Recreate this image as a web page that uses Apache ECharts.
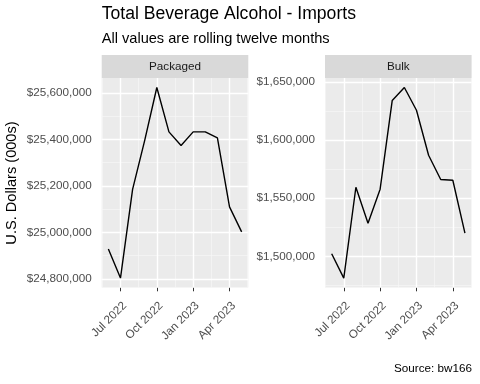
<!DOCTYPE html>
<html><head><meta charset="utf-8">
<script src="https://cdn.jsdelivr.net/npm/echarts@6/dist/echarts.min.js"></script>
<style>html,body{margin:0;padding:0;background:#fff}#c{width:480px;height:384px}</style>
</head><body><div id="c"></div>
<script>
const months = ['2022-06','2022-07','2022-08','2022-09','2022-10','2022-11','2022-12','2023-01','2023-02','2023-03','2023-04','2023-05'];
const packaged = [24928000, 24803000, 25185000, 25396000, 25624000, 25433000, 25374000, 25433000, 25433000, 25407000, 25110000, 25002000];
const bulk = [1502300, 1481400, 1559500, 1528500, 1557800, 1634100, 1645200, 1625700, 1587000, 1566100, 1565500, 1520100];
const tickMonths = ['2022-07','2022-10','2023-01','2023-04'];
const tickLabels = ['Jul 2022','Oct 2022','Jan 2023','Apr 2023'];
const packagedTicks = [24800000, 25000000, 25200000, 25400000, 25600000];
const bulkTicks = [1500000, 1550000, 1600000, 1650000];
const panelNames = ['Packaged', 'Bulk'];

const FONT = 'Liberation Sans, Arial, sans-serif';
function mIdx(s){ const [y,m] = s.split('-').map(Number); return (y-2022)*12 + (m-6); }
function money(v){ return '$' + String(Math.round(v)).replace(/\B(?=(\d{3})+(?!\d))/g, ','); }
function expand(arr){ const mn = Math.min(...arr), mx = Math.max(...arr), r = mx - mn; return [mn - 0.05*r, mx + 0.05*r]; }
function minors(ticks, ext){
  const step = ticks[1]-ticks[0], out = [];
  for (let v = ticks[0]-step/2; v <= ext[1]; v += step) if (v >= ext[0]) out.push(v);
  return out;
}

const xVals = months.map(mIdx);
const xExt = expand(xVals);
const xTickVals = tickMonths.map(mIdx);
const xMinor = minors(xTickVals, xExt);

const panels = [
  {name: panelNames[0], values: packaged, ticks: packagedTicks, left: 101.7},
  {name: panelNames[1], values: bulk, ticks: bulkTicks, left: 325}
];
const TOP = 78, H = 209.6, W = 146.6;

const grids = [], xAxes = [], yAxes = [], series = [], graphics = [];
panels.forEach((p, i) => {
  const yExt = expand(p.values);
  const yMinor = minors(p.ticks, yExt);
  grids.push({left: p.left, top: TOP, width: W, height: H, show: true, backgroundColor: '#ebebeb', borderWidth: 0, containLabel: false});
  xAxes.push({
    type: 'value', gridIndex: i, min: xExt[0], max: xExt[1],
    axisLine: {show: false}, splitLine: {show: false},
    axisTick: {show: true, length: 3.7, customValues: xTickVals, lineStyle: {color: '#333333', width: 1}},
    axisLabel: {customValues: xTickVals, rotate: 45, margin: 12, verticalAlign: 'top', color: '#4d4d4d', fontSize: 11.7, fontFamily: FONT,
      formatter: v => { const k = xTickVals.indexOf(Math.round(v)); return k >= 0 ? tickLabels[k] : ''; }}
  });
  yAxes.push({
    type: 'value', gridIndex: i, min: yExt[0], max: yExt[1],
    axisLine: {show: false}, splitLine: {show: false},
    axisTick: {show: true, length: 3.7, customValues: p.ticks, lineStyle: {color: '#333333', width: 1}},
    axisLabel: {customValues: p.ticks, margin: 10, color: '#4d4d4d', fontSize: 11.7, fontFamily: FONT, formatter: v => money(v)}
  });
  const major = '#ffffff', minor = '#f6f6f6';
  const ml = [];
  xMinor.forEach(v => ml.push({xAxis: v, lineStyle: {color: minor, width: 0.7, type: 'solid'}}));
  yMinor.forEach(v => ml.push({yAxis: v, lineStyle: {color: minor, width: 0.7, type: 'solid'}}));
  xTickVals.forEach(v => ml.push({xAxis: v, lineStyle: {color: major, width: 1.4, type: 'solid'}}));
  p.ticks.forEach(v => ml.push({yAxis: v, lineStyle: {color: major, width: 1.4, type: 'solid'}}));
  series.push({
    type: 'line', xAxisIndex: i, yAxisIndex: i, data: [], z: 1, silent: true,
    markLine: {silent: true, symbol: ['none','none'], label: {show: false}, animation: false, data: ml}
  });
  series.push({
    type: 'line', name: p.name, xAxisIndex: i, yAxisIndex: i, z: 5,
    data: xVals.map((x, k) => [x, p.values[k]]),
    showSymbol: false, symbol: 'none', smooth: false,
    lineStyle: {color: '#000000', width: 1.4}, itemStyle: {color: '#000'}
  });
  graphics.push({type: 'rect', shape: {x: p.left, y: 55, width: W, height: 23}, style: {fill: '#d9d9d9'}, silent: true});
  graphics.push({type: 'text', x: p.left + W/2, y: 66.5, style: {text: p.name, fill: '#1a1a1a', font: '11.7px ' + FONT, textAlign: 'center', textVerticalAlign: 'middle'}, silent: true});
});

graphics.push({type: 'text', x: 101.7, y: 14.5, style: {text: 'Total Beverage Alcohol - Imports', fill: '#000', font: '17.6px ' + FONT, textAlign: 'left', textVerticalAlign: 'middle'}});
graphics.push({type: 'text', x: 101.7, y: 38.5, style: {text: 'All values are rolling twelve months', fill: '#000', font: '14.6px ' + FONT, textAlign: 'left', textVerticalAlign: 'middle'}});
graphics.push({type: 'text', x: 472, y: 368.5, style: {text: 'Source: bw166', fill: '#000', font: '11.7px ' + FONT, textAlign: 'right', textVerticalAlign: 'middle'}});
graphics.push({type: 'text', x: 12, y: 183, rotation: Math.PI/2, style: {text: 'U.S. Dollars (000s)', fill: '#000', font: '14.6px ' + FONT, textAlign: 'center', textVerticalAlign: 'middle'}});

const chart = echarts.init(document.getElementById('c'), null, {renderer: 'canvas'});
chart.setOption({
  animation: false,
  backgroundColor: '#ffffff',
  grid: grids, xAxis: xAxes, yAxis: yAxes, series: series, graphic: graphics
});
</script></body></html>
